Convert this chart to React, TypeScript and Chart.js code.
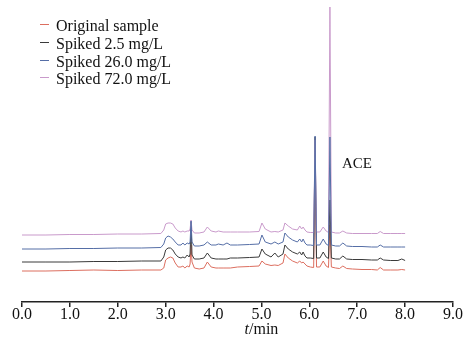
import React, { useEffect, useRef } from 'react';
import { Chart, registerables } from 'chart.js';

Chart.register(...registerables);

// retention time (min)
const TIMES = [
  0.0, 0.5, 1.0, 1.5, 2.0, 2.5, 2.9, 2.96, 3.0, 3.05, 3.1, 3.15, 3.2, 3.26, 3.32, 3.36, 3.4, 3.45, 3.49, 3.51,
  3.53, 3.55, 3.6, 3.7, 3.8, 3.87, 3.95, 4.05, 4.1, 4.2, 4.28, 4.35, 4.5, 4.75, 4.95, 5.01, 5.08, 5.2, 5.28, 5.35,
  5.45, 5.49, 5.56, 5.65, 5.75, 5.8, 5.84, 5.87, 5.91, 5.95, 6.02, 6.09, 6.12, 6.15, 6.22, 6.29, 6.35, 6.4, 6.43, 6.46,
  6.55, 6.63, 6.7, 6.78, 6.9, 7.1, 7.3, 7.42, 7.48, 7.55, 7.7, 7.85, 7.93, 8.0,
];

// detector signal (offset traces, arbitrary units)
const ORIGINAL_SAMPLE = [
  31, 31, 31.5, 32, 31.5, 32, 32, 34, 42, 44, 45, 44, 39, 35, 35, 36, 34, 36, 35, 38,
  57, 40, 34, 33, 34, 40, 35, 34, 34, 34, 34, 34, 35, 35.5, 36, 41, 38, 36.5, 37, 36.5,
  39, 48, 44, 41, 39, 41, 39, 40, 38, 36, 35, 34.5, 134, 35, 35, 41, 36, 34.5, 77, 35,
  34, 33.5, 36, 33.5, 33, 32.5, 32.5, 32, 34.5, 32, 32, 32, 32.5, 32,
];
const SPIKED_2_5 = [
  40, 40, 40, 40.5, 40.5, 41, 41, 45, 52, 54, 54, 52, 48, 45, 44, 45, 44, 47, 45, 48,
  80, 47, 43, 43, 44, 49, 44, 43, 43, 43, 43, 44, 44, 44.5, 45, 53, 48, 45, 49, 45,
  48, 57, 53, 50, 48, 50, 47, 50, 46, 44, 44, 43.5, 165, 44, 44, 50, 45, 43.5, 102, 44,
  43, 43, 46, 43, 42.5, 42.5, 42, 42, 44, 42, 41.5, 41.5, 43, 41.5,
];
const SPIKED_26_0 = [
  53, 53, 53.5, 53.5, 54, 54, 54.5, 58, 64, 66, 65, 63, 60, 57, 57, 59, 57, 59, 58, 60,
  81, 60, 56, 56, 57, 60, 57, 57, 58, 57, 59, 57, 57, 57.5, 58, 67, 60, 58, 60, 58,
  60, 69, 65, 62, 60, 63, 60, 63, 59, 57, 57, 56.5, 166, 57, 57, 63, 58, 56.5, 165, 57,
  56, 56, 59, 56, 55.5, 55.5, 55, 55, 57, 55, 55, 55, 55, 55,
];
const SPIKED_72_0 = [
  67, 67, 67.5, 67.5, 68, 68, 68.5, 72, 78, 79, 79, 78, 74, 71, 70, 71, 70, 71, 71, 73,
  82, 72, 69, 69, 70, 75, 71, 70, 71, 70, 70, 70, 70, 70, 70.5, 79, 73, 70, 70.5, 70,
  72, 79, 76, 73, 72, 76, 73, 75, 72, 70, 69.5, 69.5, 162, 70, 70, 75, 71, 69.5, 295, 70,
  69, 69, 71, 69, 68.5, 68.5, 68.5, 68.5, 70.5, 68.5, 68.5, 68.5, 68.5, 68.5,
];

const SERIES_LABELS = ['Original sample', 'Spiked 2.5 mg/L', 'Spiked 26.0 mg/L', 'Spiked 72.0 mg/L'];
const SERIES_COLORS = ['#dc6e5f', '#3a3a3a', '#556ea6', '#c99acb'];
const SERIES_DRAW_ORDER = [3, 2, 0, 1]; // lower = drawn on top

const X_TICKS = [0, 1, 2, 3, 4, 5, 6, 7, 8, 9];
const X_TICK_LABELS = ['0.0', '1.0', '2.0', '3.0', '4.0', '5.0', '6.0', '7.0', '8.0', '9.0'];
const X_TITLE_ITALIC = 't';
const X_TITLE_REST = '/min';
const PEAK_LABEL = 'ACE';

const SERIF = '"Liberation Serif", "Times New Roman", serif';

const serifLegend = {
  id: 'serifLegend',
  afterDraw(chart: any) {
    const ctx = chart.ctx;
    ctx.save();
    ctx.font = `16px ${SERIF}`;
    ctx.textBaseline = 'alphabetic';
    ctx.textAlign = 'left';
    chart.data.datasets.forEach((ds: any, i: number) => {
      const base = 31 + i * 17.8;
      const ly = Math.round(base - 7) + 0.5;
      ctx.strokeStyle = ds.borderColor;
      ctx.lineWidth = 1;
      ctx.beginPath();
      ctx.moveTo(40, ly);
      ctx.lineTo(49, ly);
      ctx.stroke();
      ctx.fillStyle = '#111';
      ctx.fillText(ds.label, 56, base);
    });
    ctx.restore();
  },
};

const annotations = {
  id: 'annotations',
  afterDraw(chart: any) {
    const ctx = chart.ctx;
    const xs = chart.scales.x;
    const ys = chart.scales.y;
    ctx.save();
    ctx.fillStyle = '#111';
    ctx.textBaseline = 'alphabetic';
    // peak label
    ctx.font = `15px ${SERIF}`;
    ctx.textAlign = 'left';
    ctx.fillText(PEAK_LABEL, xs.getPixelForValue(6.68), ys.getPixelForValue(134));
    // axis title: italic t + /min
    ctx.font = `italic 16px ${SERIF}`;
    const w1 = ctx.measureText(X_TITLE_ITALIC).width;
    ctx.font = `16px ${SERIF}`;
    const w2 = ctx.measureText(X_TITLE_REST).width;
    const cx = xs.getPixelForValue(5.0);
    const start = cx - (w1 + w2) / 2;
    const by = chart.chartArea.bottom + 32;
    ctx.font = `italic 16px ${SERIF}`;
    ctx.fillText(X_TITLE_ITALIC, start, by);
    ctx.font = `16px ${SERIF}`;
    ctx.fillText(X_TITLE_REST, start + w1, by);
    ctx.restore();
  },
};

export default function App() {
  const ref = useRef<HTMLCanvasElement | null>(null);

  useEffect(() => {
    if (!ref.current) return;
    const seriesValues = [ORIGINAL_SAMPLE, SPIKED_2_5, SPIKED_26_0, SPIKED_72_0];
    const chart = new Chart(ref.current, {
      type: 'line',
      data: {
        datasets: seriesValues.map((vals, i) => ({
          label: SERIES_LABELS[i],
          data: TIMES.map((t, j) => ({ x: t, y: vals[j] })),
          borderColor: SERIES_COLORS[i],
          backgroundColor: SERIES_COLORS[i],
          borderWidth: 1,
          pointRadius: 0,
          tension: 0,
          fill: false,
          order: SERIES_DRAW_ORDER[i],
        })),
      },
      options: {
        responsive: false,
        animation: false,
        layout: { padding: { left: 22, right: 21, top: 2, bottom: 28 } },
        plugins: {
          legend: { display: false },
          tooltip: { enabled: false },
          title: { display: false },
        },
        scales: {
          x: {
            type: 'linear',
            min: 0,
            max: 9,
            afterBuildTicks: (axis: any) => {
              axis.ticks = X_TICKS.map((v) => ({ value: v }));
            },
            ticks: {
              autoSkip: false,
              maxRotation: 0,
              padding: 0,
              color: '#111',
              font: { family: SERIF, size: 16, lineHeight: 1 },
              callback: (v: any) => X_TICK_LABELS[X_TICKS.indexOf(Number(v))] ?? '',
            },
            grid: {
              drawOnChartArea: false,
              drawTicks: true,
              tickLength: 5,
              color: '#222',
              lineWidth: 1.5,
            },
            border: { display: true, color: '#222', width: 1.5 },
          },
          y: {
            display: false,
            min: 0,
            max: 300,
          },
        },
      },
      plugins: [serifLegend, annotations],
    });
    return () => chart.destroy();
  }, []);

  return (
    <div style={{ position: 'fixed', left: 0, top: 0, width: 474, height: 351, background: '#fff' }}>
      <canvas ref={ref} width={474} height={351} style={{ display: 'block' }} />
    </div>
  );
}
